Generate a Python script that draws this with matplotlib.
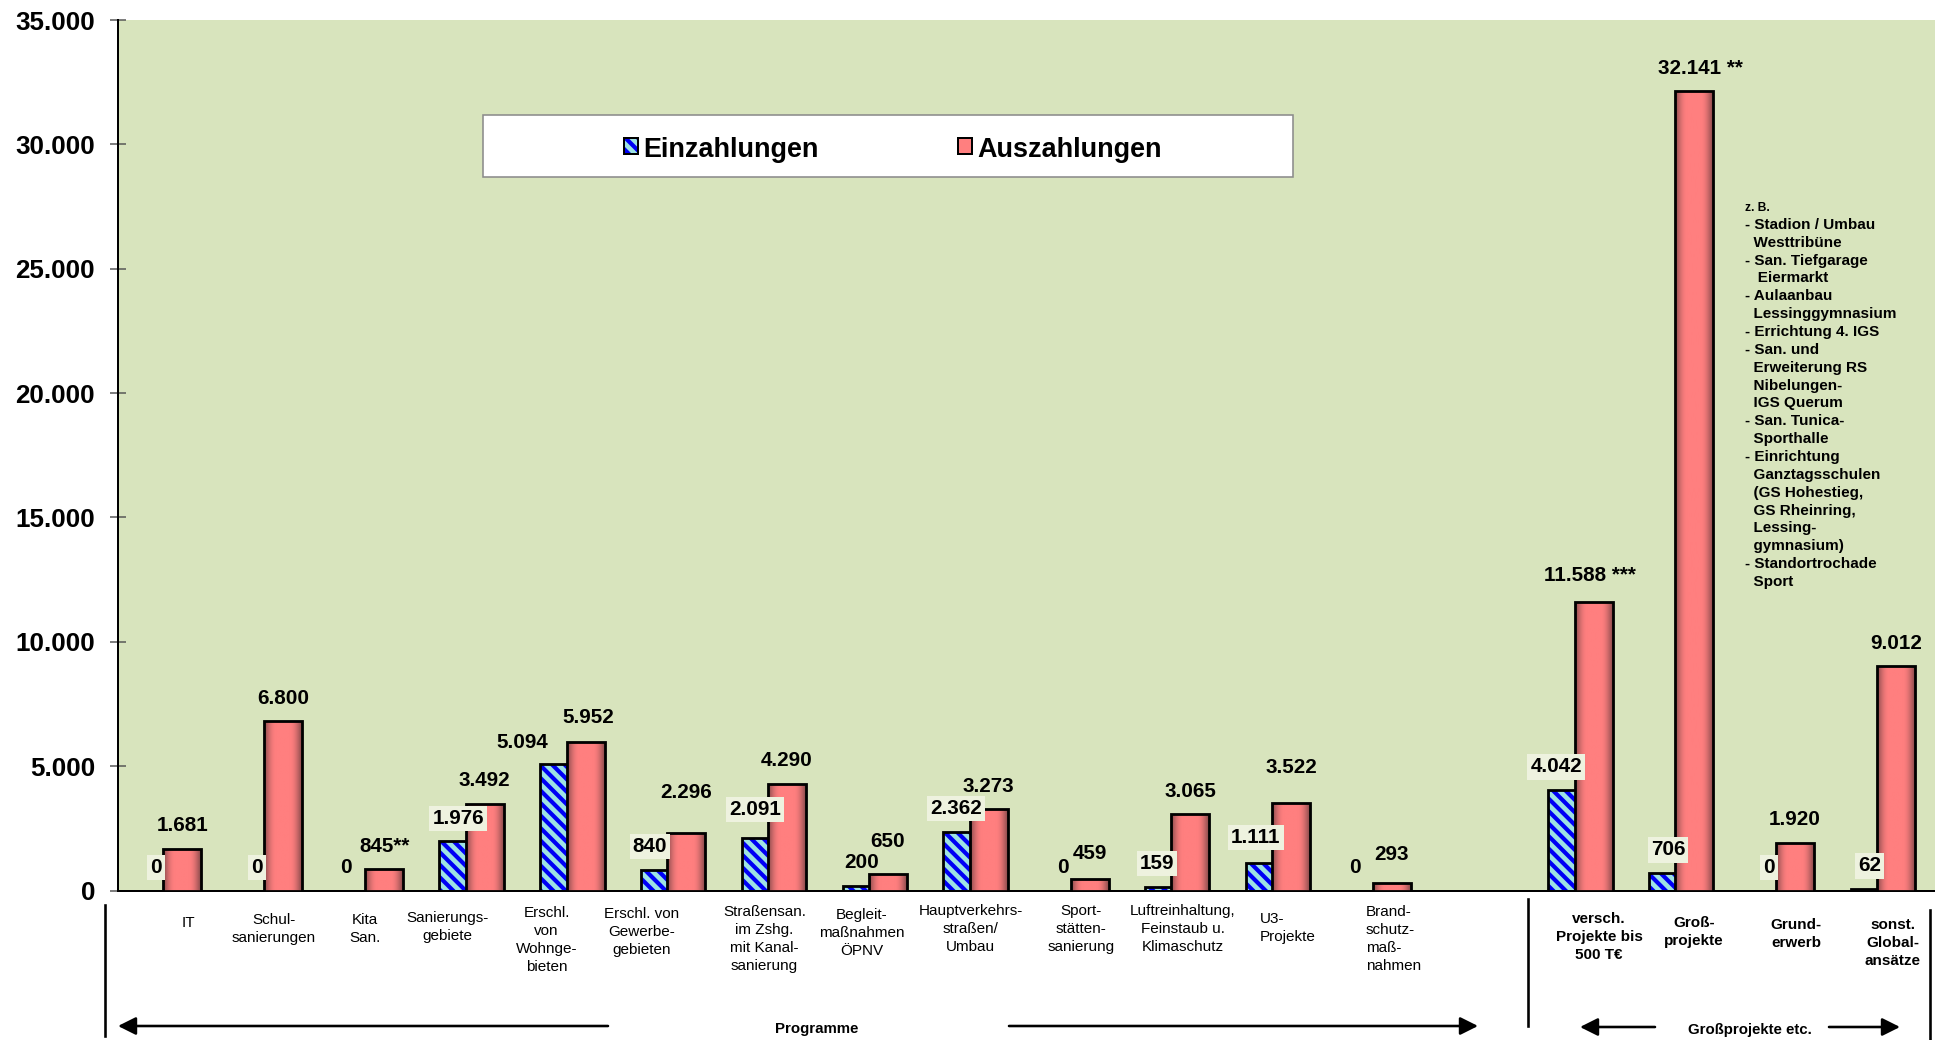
import numpy as np
import matplotlib
matplotlib.use("Agg")
import matplotlib.pyplot as plt
from matplotlib.patches import Rectangle, FancyArrowPatch
from matplotlib.lines import Line2D
from matplotlib.colors import to_rgb
from matplotlib.ticker import FixedLocator, FuncFormatter

# ---------------- data (T€) ----------------
categories = [
    "IT", "Schul-\nsanierungen", "Kita\nSan.", "Sanierungs-\ngebiete",
    "Erschl.\nvon\nWohnge-\nbieten", "Erschl. von\nGewerbe-\ngebieten",
    "Straßensan.\nim Zshg.\nmit Kanal-\nsanierung", "Begleit-\nmaßnahmen\nÖPNV",
    "Hauptverkehrs-\nstraßen/\nUmbau", "Sport-\nstätten-\nsanierung",
    "Luftreinhaltung,\nFeinstaub u.\nKlimaschutz", "U3-\nProjekte",
    "Brand-\nschutz-\nmaß-\nnahmen",
    "versch.\nProjekte bis\n500 T€", "Groß-\nprojekte", "Grund-\nerwerb",
    "sonst.\nGlobal-\nansätze",
]
einzahlungen = [0, 0, 0, 1976, 5094, 840, 2091, 200, 2362, 0, 159, 1111, 0,
                4042, 706, 0, 62]
auszahlungen = [1681, 6800, 845, 3492, 5952, 2296, 4290, 650, 3273, 459, 3065,
                3522, 293, 11588, 32141, 1920, 9012]
aus_notes = ["", "", "**", "", "", "", "", "", "", "", "", "", "",
             " ***", " **", "", ""]
series_names = ["Einzahlungen", "Auszahlungen"]
group_titles = ["Programme", "Großprojekte etc."]
programme_count = 13
y_ticks = [0, 5000, 10000, 15000, 20000, 25000, 30000, 35000]
grossprojekt_beispiele = [
    "z. B.",
    "- Stadion / Umbau", "  Westtribüne",
    "- San. Tiefgarage", "   Eiermarkt",
    "- Aulaanbau", "  Lessinggymnasium",
    "- Errichtung 4. IGS",
    "- San. und", "  Erweiterung RS", "  Nibelungen-", "  IGS Querum",
    "- San. Tunica-", "  Sporthalle",
    "- Einrichtung", "  Ganztagsschulen", "  (GS Hohestieg,", "  GS Rheinring,",
    "  Lessing-", "  gymnasium)",
    "- Standortrochade", "  Sport",
]

# ---------------- layout / style ----------------
W, H, DPI = 1935, 1040, 150
PT = 72 / DPI                     # points per output pixel
AX_L, AX_T, AX_B = 118, 20, 890.5  # plot area edges in pixels
SLOT_PX = 100.8                   # distance between category slots
FIRST_PX = 182.3                  # centre of the first Auszahlungen bar
BAR_W = 38 / SLOT_PX
EIN_SHIFT = 26.3 / SLOT_PX

BG = "#D8E4BD"
CYAN = "#9EE3E3"
STRIPE = "#0000F5"
CORAL = "#FF7F7F"
CORAL_DARK = "#874A4B"
BOX = "#EEF2DF"
EDGE_LW = 2.8 * PT
HATCH = "\\" * 4

FS_TICK = 26 * PT
FS_VAL = 20.6 * PT
FS_CAT = 15.3 * PT
FS_LEG = 27 * PT
FS_NOTE = 15.3 * PT

# label nudges (pixels) for readability
ein_dx = {2: -12, 4: -37, 5: -10, 6: -6, 8: -6, 10: -7, 11: -9, 12: -11, 13: -11}
ein_dy = {4: 21.5, 6: 29, 11: 25}
ein_boxed = {0, 1, 3, 5, 6, 8, 10, 11, 13, 14, 15, 16}
aus_dx = {2: 1, 4: 3, 13: -4, 14: 6}
aus_dy = {4: 25, 5: 41, 7: 33, 9: 26, 11: 35, 12: 29, 13: 27}
# category label: x offset from bar centre (px), first line centre y (px), align
cat_layout = [
    (5.7, 922, "center"), (-9.4, 919, "center"), (-18.9, 919, "center"),
    (-37, 917, "center"), (-38.8, 912, "center"), (-44.3, 913, "center"),
    (-22.6, 911, "center"), (-26.4, 914, "center"), (-18.2, 910, "center"),
    (-8.5, 910, "center"), (-7.3, 910, "center"), (-31.1, 918, "left"),
    (-25.9, 911, "left"), (5.5, 918, "center"), (-0.3, 922, "center"),
    (0.9, 924, "center"), (-2.9, 924, "center"),
]

plt.rcParams["font.family"] = ["Liberation Sans", "DejaVu Sans"]
plt.rcParams["hatch.linewidth"] = 2.0


def fx(px):
    return px / W


def fy(py):
    return 1 - py / H


def de(v):
    return f"{v:,}".replace(",", ".")


fig = plt.figure(figsize=(W / DPI, H / DPI), dpi=DPI, facecolor="white")
ax = fig.add_axes([fx(AX_L), fy(AX_B), fx(W - AX_L), (AX_B - AX_T) / H])
ax.set_facecolor(BG)

n = len(categories)
slots = np.arange(n) + (np.arange(n) >= programme_count)

# Einzahlungen: hatched bars, partly behind the Auszahlungen bars
ein_x = slots - EIN_SHIFT
ax.bar(ein_x, einzahlungen, width=BAR_W, color=CYAN, hatch=HATCH,
       edgecolor=STRIPE, linewidth=0, zorder=2)
ax.bar(ein_x, einzahlungen, width=BAR_W, fill=False, edgecolor="black",
       linewidth=EDGE_LW, zorder=2.5)

# Auszahlungen: bars with a cylindrical shading
aus = ax.bar(slots, auszahlungen, width=BAR_W, color=CORAL, linewidth=0,
             zorder=3)
t = np.linspace(0, 1, 160)
f = np.sin(0.5 * np.pi * np.clip(np.minimum(t, 1 - t) / 0.32, 0, 1))
c0, c1 = np.array(to_rgb(CORAL_DARK)), np.array(to_rgb(CORAL))
shade = (c0 + (c1 - c0) * f[:, None])[None, :, :]
for p in aus.patches:
    x0, w, h = p.get_x(), p.get_width(), p.get_height()
    im = ax.imshow(shade, extent=(x0, x0 + w, 0, h), aspect="auto",
                   interpolation="bilinear", zorder=3.2)
    im.set_clip_path(p)
ax.bar(slots, auszahlungen, width=BAR_W, fill=False, edgecolor="black",
       linewidth=EDGE_LW, zorder=3.5)

# axes
x_left = -(FIRST_PX - AX_L) / SLOT_PX
ax.set_xlim(x_left, x_left + (W - AX_L) / SLOT_PX)
ax.set_ylim(0, 35000)
ax.set_xticks([])
ax.yaxis.set_major_locator(FixedLocator(y_ticks))
ax.yaxis.set_major_formatter(FuncFormatter(lambda v, _: de(int(v))))
ax.tick_params(axis="y", direction="inout", length=16 * PT, width=1.5 * PT,
               color="#555555", pad=15 * PT, labelsize=FS_TICK)
for lab in ax.get_yticklabels():
    lab.set_fontweight("bold")
for s in ("top", "right"):
    ax.spines[s].set_visible(False)
ax.spines["left"].set_linewidth(2 * PT)
ax.spines["bottom"].set_linewidth(2 * PT)

# value labels
for i in range(n):
    v = einzahlungen[i]
    box = dict(boxstyle="square,pad=0.15", fc=BOX, ec="none") if i in ein_boxed else None
    ax.annotate(de(v), xy=(ein_x[i], v),
                xytext=(ein_dx.get(i, 0) * PT, ein_dy.get(i, 23) * PT),
                textcoords="offset points", ha="center", va="center",
                fontsize=FS_VAL, fontweight="bold", bbox=box, zorder=6)
    v = auszahlungen[i]
    ax.annotate(de(v) + aus_notes[i], xy=(slots[i], v),
                xytext=(aus_dx.get(i, 0) * PT, aus_dy.get(i, 23) * PT),
                textcoords="offset points", ha="center", va="center",
                fontsize=FS_VAL, fontweight="bold", zorder=6)

# category labels under the axis
for i, (label, (dx, y0, align)) in enumerate(zip(categories, cat_layout)):
    bold = i >= programme_count
    step = 18.2 if bold else 17.9
    for k, line in enumerate(label.split("\n")):
        base = y0 + k * step + 5
        ax.annotate(line, xy=(slots[i], 0), xytext=(dx * PT, -(base - AX_B) * PT),
                    textcoords="offset points", ha=align, va="baseline",
                    fontsize=FS_CAT, fontweight="bold" if bold else "normal",
                    annotation_clip=False)

# example list for the Großprojekte bar
for k, line in enumerate(grossprojekt_beispiele):
    size = 12 * PT if k == 0 else FS_NOTE
    fig.text(fx(1745), fy(206 + k * 17.86 + 5), line, ha="left", va="baseline",
             fontsize=size, fontweight="bold")

# legend
fig.add_artist(Rectangle((fx(482.5), fy(176.5)), fx(1293 - 482.5), (176.5 - 114.8) / H,
                         transform=fig.transFigure, facecolor="white",
                         edgecolor="#8C8C8C", linewidth=1.6 * PT, zorder=5))
fig.add_artist(Rectangle((fx(624), fy(154)), fx(14), 16 / H, transform=fig.transFigure,
                         facecolor=CYAN, hatch=HATCH, edgecolor=STRIPE,
                         linewidth=0, zorder=6))
fig.add_artist(Rectangle((fx(624), fy(154)), fx(14), 16 / H, transform=fig.transFigure,
                         fill=False, edgecolor="black", linewidth=2 * PT, zorder=6.5))
fig.add_artist(Rectangle((fx(958), fy(154)), fx(14), 16 / H, transform=fig.transFigure,
                         facecolor=CORAL, edgecolor="black", linewidth=2 * PT,
                         zorder=6))
fig.text(fx(643), fy(156.7), series_names[0], ha="left", va="baseline",
         fontsize=FS_LEG, fontweight="bold", zorder=7)
fig.text(fx(977), fy(156.7), series_names[1], ha="left", va="baseline",
         fontsize=FS_LEG, fontweight="bold", zorder=7)

# group separators and arrows below the categories
for x, y0, y1 in ((105, 905, 1036), (1528, 899, 1026), (1930, 910, 1040)):
    fig.add_artist(Line2D([fx(x), fx(x)], [fy(y0), fy(y1)], color="black",
                          linewidth=2.6 * PT))


def arrow(x_tail, x_tip, y):
    fig.add_artist(FancyArrowPatch((fx(x_tail), fy(y)), (fx(x_tip), fy(y)),
                                   transform=fig.transFigure,
                                   arrowstyle="-|>,head_length=0.4,head_width=0.2",
                                   mutation_scale=18, color="black",
                                   linewidth=2.6 * PT, shrinkA=0, shrinkB=0))


arrow(608, 118, 1026)
arrow(1009, 1478, 1026)
arrow(1655, 1580, 1027)
arrow(1829, 1900, 1027)
fig.text(fx(817), fy(1029), group_titles[0], ha="center", va="center",
         fontsize=15 * PT, fontweight="bold")
fig.text(fx(1750), fy(1030), group_titles[1], ha="center", va="center",
         fontsize=15 * PT, fontweight="bold")

fig.savefig("out.png", dpi=DPI, facecolor="white")
